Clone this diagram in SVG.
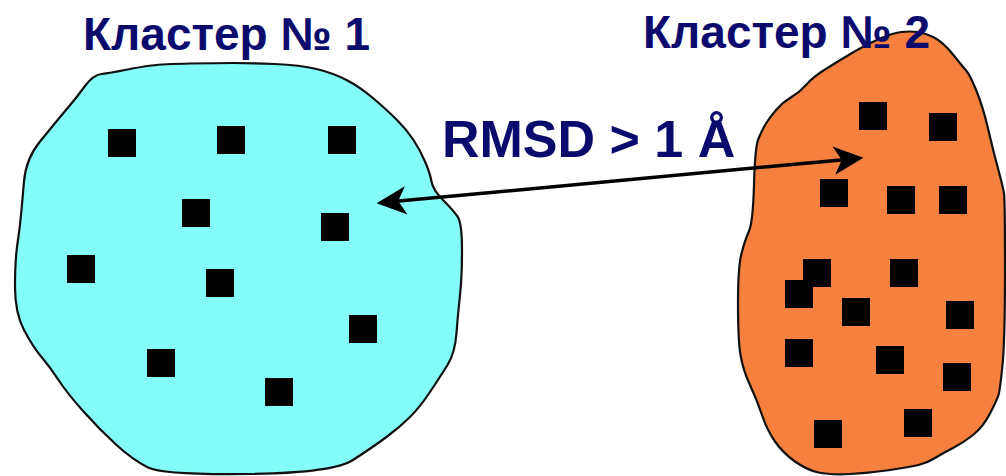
<svg xmlns="http://www.w3.org/2000/svg" width="1006" height="476" viewBox="0 0 1006 476">
<style>
.title{font-family:"Liberation Sans",Arial,sans-serif;font-weight:bold;fill:#0b0a6d}
.blob{stroke:#111;stroke-width:2.2;stroke-linejoin:round}
.pt{fill:#000}
.conn{stroke:#000;stroke-width:3.5;fill:none}
</style>
<defs>
<marker id="head" markerUnits="userSpaceOnUse" markerWidth="40" markerHeight="40" viewBox="-20 -15 35 30" refX="0" refY="0" orient="auto-start-reverse">
<path d="M10,0 L-16,-12.5 L-9,0 L-16,12.5 Z" fill="#000"/>
</marker>
</defs>
<rect width="1006" height="476" fill="#fff"/>
<g id="cluster1">
<path class="blob" fill="#84fcf9" d="M151.5,65.5 Q163,64 190,63.5 Q217,63 233.5,63 Q250,63 275,64 Q300,65 316.5,69 Q333,73 346.5,80 Q360,87 373.5,98.5 Q387,110 397,120 Q407,130 413.5,140 Q420,150 425,161.5 Q430,173 431.5,181.5 Q433,190 443,200 Q453,210 457.5,216.5 Q462,223 462,250 Q462,277 460,295 Q458,313 456.5,333 Q455,353 447.5,365 Q440,377 430,392 Q420,407 410,417 Q400,427 386.5,437 Q373,447 353,460 Q333,473 248,474 Q163,475 148,467.5 Q133,460 116.5,445 Q100,430 83.5,411.5 Q67,393 58.5,380 Q50,367 41.5,357 Q33,347 24,330 Q15,313 15,286.5 Q15,260 17.5,243.5 Q20,227 21.5,210 Q23,193 24,181.5 Q25,170 29,160 Q33,150 40,141.5 Q47,133 53.5,125 Q60,117 68.5,107 Q77,97 85,86 Q93,75 101.5,74 Q110,73 125,70 Q140,67 151.5,65.5 Z"/>
<rect class="pt" x="108" y="129" width="28" height="28"/>
<rect class="pt" x="217" y="126" width="28" height="28"/>
<rect class="pt" x="328" y="126" width="28" height="28"/>
<rect class="pt" x="182" y="199" width="28" height="28"/>
<rect class="pt" x="321" y="213" width="28" height="28"/>
<rect class="pt" x="67" y="255" width="28" height="28"/>
<rect class="pt" x="206" y="269" width="28" height="28"/>
<rect class="pt" x="349" y="315" width="28" height="28"/>
<rect class="pt" x="147" y="349" width="28" height="28"/>
<rect class="pt" x="265" y="378" width="28" height="28"/>
</g>
<g id="cluster2">
<path class="blob" fill="#f6803e" d="M863.5,46.5 Q870,43 881.5,38 Q893,33 901.5,32 Q910,31 917.5,32 Q925,33 934,37.5 Q943,42 953,54.5 Q963,67 966.5,71 Q970,75 976.5,91 Q983,107 988,128.5 Q993,150 998,168.5 Q1003,187 1004,193.5 Q1005,200 1005,270 Q1005,340 1002.5,365 Q1000,390 998.5,395 Q997,400 990,413.5 Q983,427 973,435 Q963,443 953,448 Q943,453 935,458 Q927,463 918.5,465 Q910,467 890,470 Q870,473 850,474 Q830,475 818.5,472.5 Q807,470 795,461.5 Q783,453 775,441.5 Q767,430 762,415 Q757,400 750,385 Q743,370 740.5,355 Q738,340 738,303.5 Q738,267 741.5,253.5 Q745,240 749,231 Q753,222 754,184.5 Q755,147 758.5,138.5 Q762,130 766,123.5 Q770,117 776.5,109.5 Q783,102 791.5,97 Q800,92 806.5,84.5 Q813,77 825,69.5 Q837,62 847,56 Q857,50 863.5,46.5 Z"/>
<rect class="pt" x="859" y="102" width="28" height="28"/>
<rect class="pt" x="929" y="113" width="28" height="28"/>
<rect class="pt" x="820" y="179" width="28" height="28"/>
<rect class="pt" x="887" y="186" width="28" height="28"/>
<rect class="pt" x="939" y="186" width="28" height="28"/>
<rect class="pt" x="803" y="259" width="28" height="28"/>
<rect class="pt" x="785" y="280" width="28" height="28"/>
<rect class="pt" x="890" y="259" width="28" height="28"/>
<rect class="pt" x="842" y="298" width="28" height="28"/>
<rect class="pt" x="946" y="301" width="28" height="28"/>
<rect class="pt" x="785" y="339" width="28" height="28"/>
<rect class="pt" x="876" y="346" width="28" height="28"/>
<rect class="pt" x="943" y="363" width="28" height="28"/>
<rect class="pt" x="814" y="420" width="28" height="28"/>
<rect class="pt" x="904" y="409" width="28" height="28"/>
</g>
<g id="titles">
<text class="title" x="83" y="50" font-size="46">Кластер № 1</text>
<text class="title" x="643" y="48" font-size="46">Кластер № 2</text>
</g>
<g id="connectors">
<line class="conn" x1="387.96" y1="202.07" x2="852.04" y2="158.93" marker-start="url(#head)" marker-end="url(#head)"/>
<text class="title" x="442" y="157" font-size="52">RMSD &gt; 1 Å</text>
</g>
</svg>
